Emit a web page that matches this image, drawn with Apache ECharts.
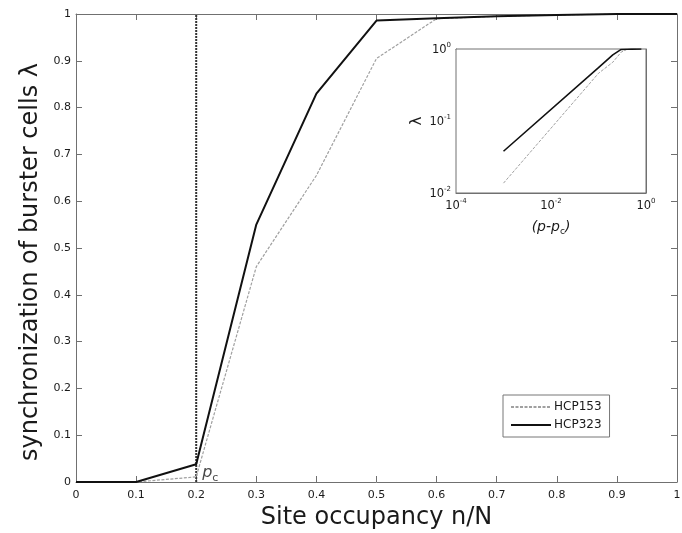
<!DOCTYPE html>
<html>
<head>
<meta charset="utf-8">
<script src="https://cdn.jsdelivr.net/npm/echarts@6/dist/echarts.min.js"></script>
<style>html,body{margin:0;padding:0;background:#fff;}#c{width:682px;height:533px;}</style>
</head>
<body>
<div id="c"></div>
<script>
// ---- data ----
const occupancy = [0, 0.1, 0.2, 0.3, 0.4, 0.5, 0.6, 0.7, 0.8, 0.9, 1.0];
const hcp153 = [0, 0, 0.011, 0.46, 0.655, 0.905, 0.99, 0.995, 0.998, 1, 1];
const hcp323 = [0, 0, 0.038, 0.55, 0.83, 0.986, 0.991, 0.995, 0.998, 1, 1];
const pcValue = 0.2;
const pcLineY = [0, 1];
// inset (log-log): p - pc vs lambda
const insetX = [0.001, 0.1, 0.2, 0.3, 0.4, 0.5, 0.8];
const inset153 = [0.0137, 0.46, 0.655, 0.905, 0.99, 0.995, 1];
const inset323 = [0.038, 0.55, 0.83, 0.986, 0.991, 0.995, 1];
const seriesNames = ['HCP153', 'HCP323'];

const FONT = 'DejaVu Sans, Liberation Sans, sans-serif';
const AX = '#707070';
const TXT = '#1a1a1a';
const GREY = '#a0a0a0';

const zip = (xs, ys) => xs.map((x, i) => [x, ys[i]]);
const supFmt = (v) => '{b|10}{s|' + Math.round(Math.log10(v)) + '}';
const supRich = {
  b: {fontSize: 11.5, fontFamily: FONT, color: TXT, verticalAlign: 'bottom'},
  s: {fontSize: 7, fontFamily: FONT, color: TXT, verticalAlign: 'bottom', padding: [0, 0, 7, 0]}
};

const chart = echarts.init(document.getElementById('c'), null, {renderer: 'canvas'});
const mainTick = {show: true, inside: true, length: 6, lineStyle: {color: AX}};
const insetTick = {show: true, inside: true, length: 3, lineStyle: {color: AX}};
const line = {show: true, onZero: false, lineStyle: {color: AX}};

chart.setOption({
  animation: false,
  backgroundColor: '#fff',
  textStyle: {fontFamily: FONT},
  grid: [
    {left: 76, top: 14, right: 5, bottom: 51, containLabel: false, outerBoundsMode: 'none'},
    {left: 456, top: 49, width: 190, height: 144, show: true, backgroundColor: '#fff',
     borderWidth: 1, borderColor: AX, z: 5, outerBoundsMode: 'none'}
  ],
  legend: {
    data: seriesNames,
    orient: 'vertical',
    left: 503, top: 395,
    itemWidth: 40, itemHeight: 10, itemGap: 6,
    padding: [6, 8, 6, 7],
    borderColor: '#777', borderWidth: 1,
    backgroundColor: '#fff',
    itemStyle: {opacity: 0},
    textStyle: {fontFamily: FONT, fontSize: 12, color: TXT, padding: [0, 0, 0, -2]}
  },
  xAxis: [
    {
      type: 'value', gridIndex: 0, min: 0, max: 1, interval: 0.1,
      name: 'Site occupancy n/N', nameLocation: 'middle', nameGap: 24,
      nameTextStyle: {fontFamily: FONT, fontSize: 24, color: TXT},
      axisLine: line,
      axisTick: mainTick,
      axisLabel: {fontFamily: FONT, fontSize: 11, color: TXT, margin: 8},
      splitLine: {show: false}
    },
    {
      type: 'value', gridIndex: 0, min: 0, max: 1, interval: 0.1, position: 'top',
      axisLine: line, axisTick: mainTick, axisLabel: {show: false}, splitLine: {show: false}
    },
    {
      type: 'log', logBase: 10, gridIndex: 1, min: 1e-4, max: 1, position: 'bottom',
      name: '{i|(p-p}{sub|c}{i|)}', nameLocation: 'middle', nameGap: 27,
      nameTextStyle: {
        fontFamily: FONT, fontSize: 14, color: TXT,
        rich: {
          i: {fontFamily: FONT, fontSize: 14, fontStyle: 'italic', color: TXT, verticalAlign: 'top'},
          sub: {fontFamily: FONT, fontSize: 9, color: TXT, verticalAlign: 'top', padding: [7, 0, 0, 0]}
        }
      },
      axisLine: line,
      axisTick: insetTick,
      axisLabel: {
        margin: 5,
        formatter: (v) => (Math.round(Math.log10(v)) % 2 === 0 ? supFmt(v) : ''),
        rich: supRich
      },
      splitLine: {show: false}
    },
    {
      type: 'log', logBase: 10, gridIndex: 1, min: 1e-4, max: 1, position: 'top',
      axisLine: line, axisTick: insetTick, axisLabel: {show: false}, splitLine: {show: false}
    }
  ],
  yAxis: [
    {
      type: 'value', gridIndex: 0, min: 0, max: 1, interval: 0.1,
      name: 'synchronization of burster cells \u03bb', nameLocation: 'middle', nameGap: 31,
      nameTextStyle: {fontFamily: FONT, fontSize: 24, color: TXT, padding: [0, 28, 0, 0]},
      axisLine: line,
      axisTick: mainTick,
      axisLabel: {fontFamily: FONT, fontSize: 11, color: TXT, margin: 5},
      splitLine: {show: false}
    },
    {
      type: 'value', gridIndex: 0, min: 0, max: 1, interval: 0.1, position: 'right',
      axisLine: line, axisTick: mainTick, axisLabel: {show: false}, splitLine: {show: false}
    },
    {
      type: 'log', logBase: 10, gridIndex: 1, min: 0.01, max: 1, position: 'left',
      name: '\u03bb', nameLocation: 'middle', nameGap: 31, nameRotate: 90,
      nameTextStyle: {fontFamily: FONT, fontSize: 15, color: TXT},
      axisLine: line,
      axisTick: insetTick,
      axisLabel: {margin: 5, formatter: supFmt, rich: supRich},
      splitLine: {show: false}
    },
    {
      type: 'log', logBase: 10, gridIndex: 1, min: 0.01, max: 1, position: 'right',
      axisLine: line, axisTick: insetTick, axisLabel: {show: false}, splitLine: {show: false}
    }
  ],
  series: [
    {
      name: 'pc', type: 'line', xAxisIndex: 0, yAxisIndex: 0, symbol: 'none', silent: true,
      data: pcLineY.map(y => [pcValue, y]),
      lineStyle: {color: '#333', width: 2, type: [2, 1]}, z: 1
    },
    {
      name: 'pcLabel', type: 'scatter', xAxisIndex: 0, yAxisIndex: 0, symbolSize: 0, silent: true,
      data: [[pcValue, 0]],
      label: {
        show: true, position: 'right', distance: 3, offset: [3, -8],
        formatter: '{p|p}{c|c}',
        rich: {
          p: {fontFamily: FONT, fontSize: 16, fontStyle: 'italic', color: TXT, verticalAlign: 'top'},
          c: {fontFamily: FONT, fontSize: 11, color: TXT, verticalAlign: 'top', padding: [8, 0, 0, 0]}
        }
      }
    },
    {
      name: 'HCP153', type: 'line', xAxisIndex: 0, yAxisIndex: 0, symbol: 'none',
      data: zip(occupancy, hcp153),
      lineStyle: {color: GREY, width: 1.2, type: [3, 1.5]}, itemStyle: {color: GREY}, z: 2
    },
    {
      name: 'HCP323', type: 'line', xAxisIndex: 0, yAxisIndex: 0, symbol: 'none',
      data: zip(occupancy, hcp323),
      lineStyle: {color: '#111', width: 2}, itemStyle: {color: '#111'}, z: 3
    },
    {
      name: 'inset153', type: 'line', xAxisIndex: 2, yAxisIndex: 2, symbol: 'none', silent: true,
      data: zip(insetX, inset153),
      lineStyle: {color: GREY, width: 1, type: [3, 1.5]}, z: 6
    },
    {
      name: 'inset323', type: 'line', xAxisIndex: 2, yAxisIndex: 2, symbol: 'none', silent: true,
      data: zip(insetX, inset323),
      lineStyle: {color: '#111', width: 1.6}, z: 7
    }
  ]
});
</script>
</body>
</html>
